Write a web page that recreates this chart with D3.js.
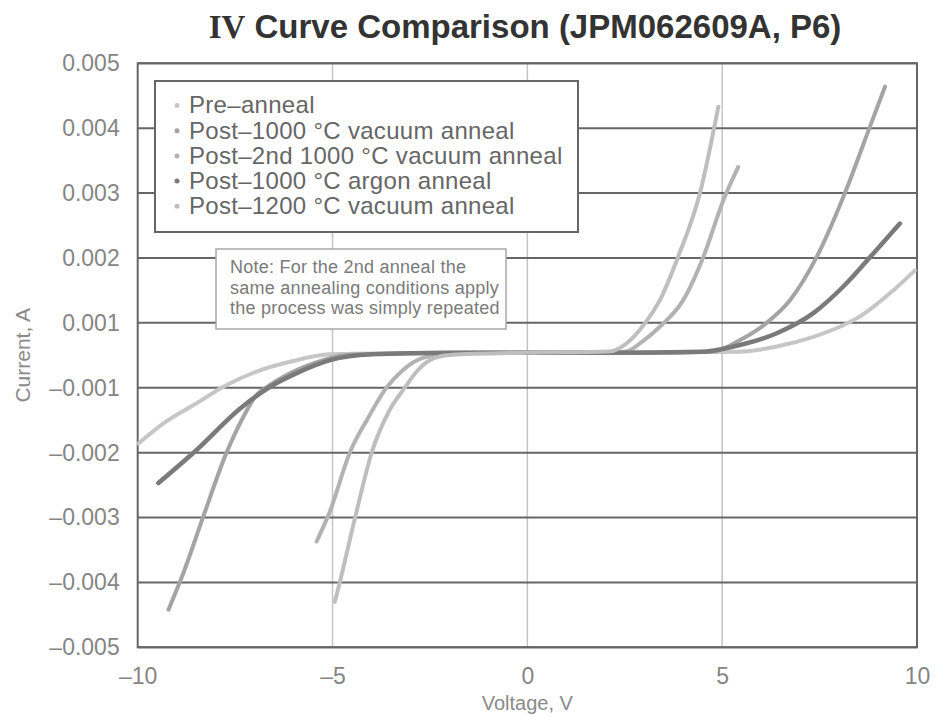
<!DOCTYPE html>
<html>
<head>
<meta charset="utf-8">
<script src="https://cdn.jsdelivr.net/npm/d3@7"></script>
<style>
    body { margin: 0; background: #fff; }
    svg { display: block; font-family: "Liberation Sans", Arial, sans-serif; }
</style>
</head>
<body>
<div class="container"></div>
<script>
// datos
const nombres = ["Pre\u2013anneal",
                 "Post\u20131000 \u00b0C vacuum anneal",
                 "Post\u20132nd 1000 \u00b0C vacuum anneal",
                 "Post\u20131000 \u00b0C argon anneal",
                 "Post\u20131200 \u00b0C vacuum anneal"]
const colores = ["#c6c6c6", "#a4a4a4", "#b2b2b2", "#7a7a7a", "#bebebe"]

const preV = [-9.98, -9.34, -8.49, -7.80, -6.95, -6.09, -5.06, -3, -1, 1, 3, 4.5, 5.54, 6.40, 7.34, 8.02, 8.54, 9.39, 9.95]
const preI = [-0.00186, -0.00155, -0.00124, -0.00097, -0.0005, -0.0002, 0.00003, 0.00007, 0.00008, 0.00008, 0.00008, 0.0001, 0.00012, 0.00027, 0.00057, 0.00088, 0.0011, 0.0015, 0.00181]

const vac1000V = [-9.21, -8.83, -8.32, -7.72, -7.29, -6.95, -6.69, -6.26, -5.49, -4.64, -3, -1, 1, 3, 4.77, 5.46, 6.14, 6.74, 7.43, 8.15, 8.79, 9.18]
const vac1000I = [-0.00442, -0.00386, -0.00299, -0.002, -0.00145, -0.00111, -0.00098, -0.00066, -0.00025, 0.00001, 0.00006, 0.00008, 0.00008, 0.00008, 0.00012, 0.00047, 0.001, 0.00135, 0.00202, 0.003, 0.00402, 0.00464]

const vac2ndV = [-5.41, -5.07, -4.55, -4.12, -3.61, -3.19, -2.68, -2, -1, 1, 2, 2.55, 2.89, 3.40, 4.0, 4.52, 5.03, 5.41]
const vac2ndI = [-0.00337, -0.00291, -0.00199, -0.0015, -0.00099, -0.00045, -0.00008, 0.00005, 0.00008, 0.00008, 0.0001, 0.00012, 0.00037, 0.00088, 0.00135, 0.00202, 0.00289, 0.0034]

const argonV = [-9.47, -8.49, -7.37, -6.6, -5.92, -5.06, -4, -2, 0, 2, 4.52, 5.29, 6.40, 7.34, 8.11, 8.88, 9.56]
const argonI = [-0.00247, -0.00196, -0.00132, -0.00097, -0.00055, -0.00015, 0.00003, 0.00008, 0.00008, 0.00008, 0.00011, 0.00027, 0.00068, 0.00115, 0.00156, 0.00207, 0.00253]

const vac1200V = [-4.94, -4.81, -4.42, -3.99, -3.53, -3.14, -2.84, -2.49, -1.98, 0, 2.12, 2.55, 3.02, 3.40, 3.87, 4.43, 4.90]
const vac1200I = [-0.0043, -0.00399, -0.0030, -0.00199, -0.00134, -0.00099, -0.0005, -0.00014, 0.00001, 0.00008, 0.00012, 0.00037, 0.00099, 0.00135, 0.00202, 0.003, 0.00433]

const xTicks = [-10, -5, 0, 5, 10]
const xTickLabels = ["\u201310", "\u20135", "0", "5", "10"]
const yTicks = [0.005, 0.004, 0.003, 0.002, 0.001, -0.001, -0.002, -0.003, -0.004, -0.005]
const yTickLabels = ["0.005", "0.004", "0.003", "0.002", "0.001", "\u20130.001", "\u20130.002", "\u20130.003", "\u20130.004", "\u20130.005"]

const notas = ["Note: For the 2nd anneal the", "same annealing conditions apply", "the process was simply repeated"]

// svg
const WIDTH = 935, HEIGHT = 717
const plot = { left: 137.7, right: 917, top: 63.3, bottom: 647.3 }
const paso = (plot.bottom - plot.top) / 9

const x = d3.scaleLinear().domain([-10, 10]).range([plot.left, plot.right])
// the printed axis skips 0, so the scale goes through the labels as printed
const y = d3.scaleLinear()
            .domain([-0.005, -0.001, 0.001, 0.005])
            .range([plot.bottom, plot.top + 5 * paso, plot.top + 4 * paso, plot.top])

const series = [[preV, preI], [vac1000V, vac1000I], [vac2ndV, vac2ndI], [argonV, argonI], [vac1200V, vac1200I]]
    .map((s, k) => ({ nombre: nombres[k], color: colores[k],
                      puntos: s[0].map((v, i) => ({ v: v, i: s[1][i] })) }))

const svg = d3.select(".container")
            .append("svg")
            .attr("width", WIDTH)
            .attr("height", HEIGHT)

svg.append("rect").attr("width", WIDTH).attr("height", HEIGHT).attr("fill", "#fff")

// grid
svg.append("g")
    .selectAll("line")
    .data(xTicks.slice(1, -1))
    .join("line")
    .attr("x1", d => x(d)).attr("x2", d => x(d))
    .attr("y1", plot.top).attr("y2", plot.bottom)
    .attr("stroke", "#c4c4c4")
    .attr("stroke-width", 1.5)

svg.append("g")
    .selectAll("line")
    .data(yTicks)
    .join("line")
    .attr("x1", plot.left).attr("x2", plot.right)
    .attr("y1", d => y(d)).attr("y2", d => y(d))
    .attr("stroke", "#666")
    .attr("stroke-width", 2)

svg.append("rect")
    .attr("x", plot.left).attr("y", plot.top)
    .attr("width", plot.right - plot.left)
    .attr("height", plot.bottom - plot.top)
    .attr("fill", "none")
    .attr("stroke", "#666")
    .attr("stroke-width", 2)

// ejes
svg.append("g")
    .attr("transform", `translate(0 ${plot.bottom})`)
    .call(d3.axisBottom(x).tickValues(xTicks).tickSize(0).tickPadding(20)
            .tickFormat((d, i) => xTickLabels[i]))
svg.append("g")
    .attr("transform", `translate(${plot.left} 0)`)
    .call(d3.axisLeft(y).tickValues(yTicks).tickSize(0).tickPadding(18)
            .tickFormat((d, i) => yTickLabels[i]))

svg.selectAll(".domain").remove()
svg.selectAll(".tick text")
    .style("font-family", "Liberation Sans, Arial, sans-serif")
    .style("font-size", "23px")
    .attr("fill", "#858585")

svg.append("text")
    .attr("x", (plot.left + plot.right) / 2)
    .attr("y", 710)
    .attr("text-anchor", "middle")
    .style("font-size", "20px")
    .attr("fill", "#8a8a8a")
    .text("Voltage, V")

svg.append("text")
    .attr("transform", `translate(30 ${(plot.top + plot.bottom) / 2}) rotate(-90)`)
    .attr("text-anchor", "middle")
    .style("font-size", "21px")
    .attr("fill", "#8a8a8a")
    .text("Current, A")

// titulo
const titulo = svg.append("text")
    .attr("x", 525)
    .attr("y", 38)
    .attr("text-anchor", "middle")
    .style("font-size", "33px")
    .style("font-weight", "bold")
    .attr("fill", "#333")
titulo.append("tspan").style("font-family", "Liberation Serif, serif").text("IV")
titulo.append("tspan").text(" Curve Comparison (JPM062609A, P6)")

// curvas
const linea = d3.line()
    .x(d => x(d.v))
    .y(d => y(d.i))
    .curve(d3.curveMonotoneX)

svg.append("g")
    .selectAll("path")
    .data(series)
    .join("path")
    .attr("d", d => linea(d.puntos))
    .attr("fill", "none")
    .attr("stroke", d => d.color)
    .attr("stroke-width", (d, i) => i == 3 ? 4.5 : 4)
    .attr("stroke-linecap", "round")

// leyenda
const leyenda = svg.append("g").attr("class", "leyenda")
leyenda.append("rect")
    .attr("x", 155).attr("y", 81)
    .attr("width", 423).attr("height", 151)
    .attr("fill", "#fff")
    .attr("stroke", "#666")
    .attr("stroke-width", 2)

leyenda.selectAll("circle")
    .data(series)
    .join("circle")
    .attr("cx", 177)
    .attr("cy", (_, i) => 105.5 + i * 25.2)
    .attr("r", 2.5)
    .attr("fill", d => d.color)

leyenda.selectAll("text")
    .data(series)
    .join("text")
    .attr("x", 189)
    .attr("y", (_, i) => 113.3 + i * 25.2)
    .style("font-size", "24px")
    .style("letter-spacing", "0.3px")
    .attr("fill", "#666")
    .text(d => d.nombre)

// nota
const nota = svg.append("g").attr("class", "nota")
nota.append("rect")
    .attr("x", 216).attr("y", 249)
    .attr("width", 290).attr("height", 80)
    .attr("fill", "#fff")
    .attr("stroke", "#a8a8a8")
    .attr("stroke-width", 1.5)

nota.selectAll("text")
    .data(notas)
    .join("text")
    .attr("x", 230)
    .attr("y", (_, i) => 273 + i * 20.5)
    .style("font-size", "18px")
    .style("letter-spacing", "0.25px")
    .attr("fill", "#7a7a7a")
    .text(d => d)
</script>
</body>
</html>
